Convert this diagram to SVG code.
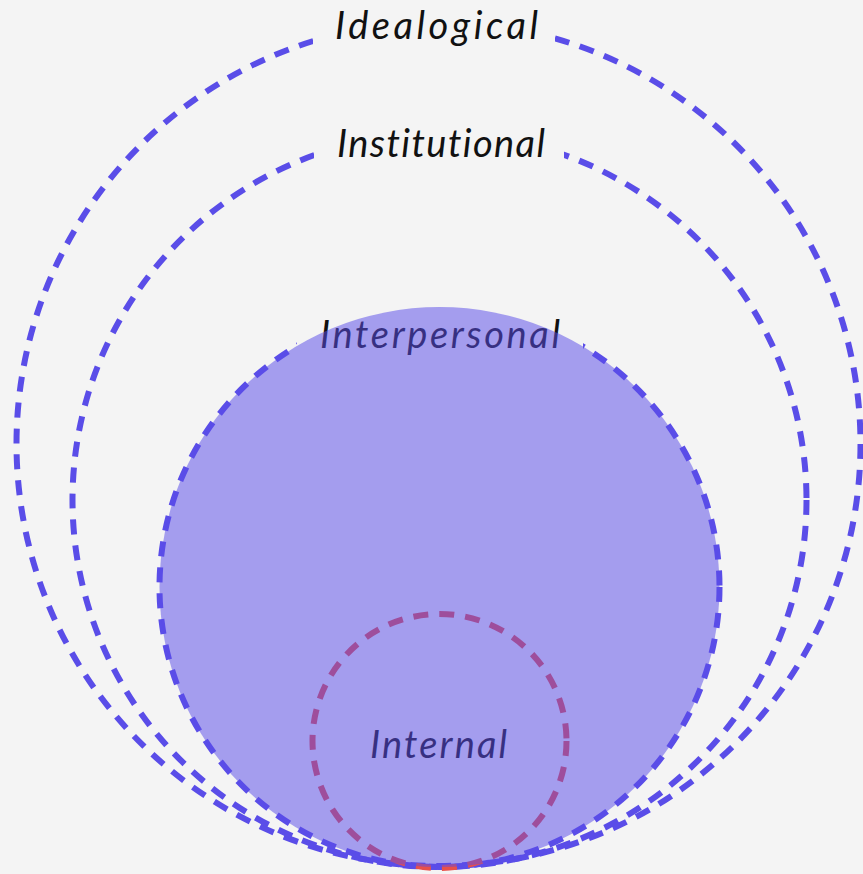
<svg xmlns="http://www.w3.org/2000/svg" width="863" height="874" viewBox="0 0 863 874">
<style>
.ring{fill:none;stroke:#5a4de8;stroke-width:6;stroke-dasharray:15 11}
.inner{fill:none;stroke:#e8504a;stroke-width:6;stroke-dasharray:15 11}
.lbg{fill:#f4f4f4}
.lbl{font-family:Lato,"Open Sans","DejaVu Sans",sans-serif;font-style:italic;font-size:38px;fill:#111;text-anchor:middle;font-variant-ligatures:none}
</style>
<rect width="863" height="874" fill="#f4f4f4"/>
<g id="idealogical">
<circle class="ring" cx="438.5" cy="444" r="422"/>
</g>
<g id="institutional">
<circle class="ring" cx="439.5" cy="500" r="367"/>
</g>
<g id="interpersonal-ring">
<circle class="ring" cx="439.5" cy="587" r="280"/>
</g>
<g id="internal">
<circle class="inner" cx="439.5" cy="741" r="127"/>
</g>
<g id="labels">
<rect class="lbg" x="313" y="0" width="242" height="56"/>
<text class="lbl" x="436.5" y="39" textLength="203" lengthAdjust="spacing">Idealogical</text>
<rect class="lbg" x="314" y="110" width="250" height="60"/>
<text class="lbl" x="441" y="157" textLength="208" lengthAdjust="spacing">Institutional</text>
<rect class="lbg" x="297" y="298" width="286" height="64"/>
<text class="lbl" x="440" y="348" textLength="240" lengthAdjust="spacing">Interpersonal</text>
<text class="lbl" x="438.5" y="758" textLength="137" lengthAdjust="spacing">Internal</text>
</g>
<g id="interpersonal">
<circle cx="439.5" cy="587" r="280" fill="#5a4de8" fill-opacity="0.52"/>
</g>
</svg>
